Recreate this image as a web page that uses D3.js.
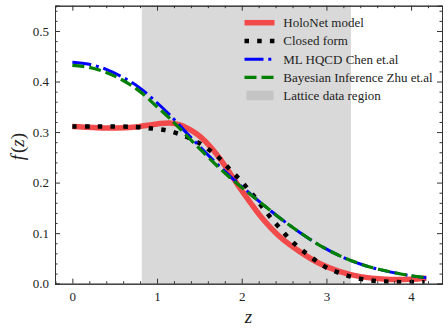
<!DOCTYPE html>
<html>
<head>
<meta charset="utf-8">
<script src="https://cdn.jsdelivr.net/npm/d3@7"></script>
<style>
  body { margin: 0; background: #fff; }
</style>
</head>
<body>
<svg id="chart"></svg>
<script>
// values
const holoZ = [0, 0.25, 0.5, 0.75, 1.0, 1.15, 1.27, 1.4, 1.51, 1.63, 1.74, 1.86, 1.98, 2.1, 2.22, 2.45, 2.69, 2.92, 3.16, 3.4, 3.7, 4.0, 4.18];
const holoF = [0.311, 0.309, 0.308, 0.310, 0.316, 0.318, 0.314, 0.304, 0.291, 0.271, 0.248, 0.219, 0.189, 0.161, 0.134, 0.093, 0.063, 0.040, 0.024, 0.014, 0.009, 0.009, 0.011];

const closedZ = [0, 0.25, 0.5, 0.75, 0.94, 1.09, 1.23, 1.37, 1.51, 1.63, 1.75, 1.85, 1.96, 2.06, 2.16, 2.25, 2.34, 2.44, 2.54, 2.65, 2.77, 2.89, 3.02, 3.16, 3.31, 3.46, 3.6, 3.75, 3.9, 4.05, 4.16];
const closedF = [0.311, 0.311, 0.311, 0.310, 0.307, 0.304, 0.298, 0.289, 0.277, 0.263, 0.246, 0.228, 0.209, 0.190, 0.170, 0.150, 0.131, 0.112, 0.093, 0.075, 0.059, 0.044, 0.030, 0.021, 0.013, 0.008, 0.005, 0.004, 0.003, 0.003, 0.003];

const chenZ = [0, 0.2, 0.4, 0.6, 0.8, 1.0, 1.15, 1.39, 1.63, 1.86, 2.1, 2.22, 2.45, 2.69, 2.92, 3.16, 3.4, 3.63, 3.99, 4.18];
const chenF = [0.438, 0.434, 0.424, 0.408, 0.387, 0.358, 0.334, 0.291, 0.250, 0.213, 0.178, 0.161, 0.130, 0.101, 0.076, 0.055, 0.039, 0.028, 0.016, 0.012];

const zhuZ = [0, 0.2, 0.4, 0.6, 0.8, 1.0, 1.15, 1.39, 1.63, 1.86, 2.1, 2.22, 2.45, 2.69, 2.92, 3.16, 3.4, 3.63, 3.99, 4.18];
const zhuF = [0.432, 0.428, 0.418, 0.402, 0.380, 0.350, 0.327, 0.286, 0.246, 0.210, 0.177, 0.161, 0.130, 0.101, 0.076, 0.055, 0.039, 0.028, 0.016, 0.012];

const latticeRange = [0.82, 3.29];
const xTicks = [0, 1, 2, 3, 4];
const yTicks = [0, 0.1, 0.2, 0.3, 0.4, 0.5];

const legendLabels = ["HoloNet model", "Closed form", "ML HQCD Chen et.al", "Bayesian Inference Zhu et.al", "Lattice data region"];

const FONT = "'Liberation Serif', 'Times New Roman', 'DejaVu Serif', serif";
const width = 448, height = 332;
const margin = { left: 55, right: 6, top: 5.7, bottom: 48.3 };

const svg = d3.select("#chart")
    .attr("width", width)
    .attr("height", height);

const x = d3.scaleLinear().domain([-0.205, 4.365]).range([margin.left, width - margin.right]);
const y = d3.scaleLinear().domain([0, 0.55]).range([height - margin.bottom, margin.top]);

// series styles
const series = [
    { z: holoZ, f: holoF, color: "#f24a4a", width: 5.5, dash: null },
    { z: closedZ, f: closedF, color: "#000", width: 4.5, dash: "4.5,8.2" },
    { z: chenZ, f: chenF, color: "#0000ff", width: 3, dash: "19,4.8,3,4.8" },
    { z: zhuZ, f: zhuF, color: "#008000", width: 3.2, dash: "12,5" }
];

// Lattice shaded region
svg.append("rect")
    .attr("x", x(latticeRange[0]))
    .attr("y", y(0.55))
    .attr("width", x(latticeRange[1]) - x(latticeRange[0]))
    .attr("height", y(0) - y(0.55))
    .attr("fill", "#d9d9d9");

const line = d3.line()
    .x(d => x(d[0]))
    .y(d => y(d[1]))
    .curve(d3.curveCatmullRom.alpha(0.5));

svg.append("defs").append("clipPath").attr("id", "clip")
    .append("rect")
    .attr("x", margin.left).attr("y", margin.top)
    .attr("width", width - margin.left - margin.right)
    .attr("height", height - margin.top - margin.bottom);

const plot = svg.append("g").attr("clip-path", "url(#clip)");

series.forEach(s => {
    plot.append("path")
        .datum(d3.zip(s.z, s.f))
        .attr("d", line)
        .attr("fill", "none")
        .attr("stroke", s.color)
        .attr("stroke-width", s.width)
        .attr("stroke-linecap", "butt")
        .attr("stroke-dasharray", s.dash);
});

// Axes (ticks point inward, on all four sides)
const minorX = d3.range(-0.2, 4.4, 0.2).filter(v => Math.abs(v - Math.round(v)) > 1e-6);
const minorY = d3.range(0, 0.55, 0.02).filter(v => Math.abs(v * 10 - Math.round(v * 10)) > 1e-6);

function styleAxis(g) {
    g.attr("font-family", FONT).attr("font-size", 13);
    g.select(".domain").attr("stroke", "#333").attr("stroke-width", 1);
    g.selectAll(".tick line").attr("stroke", "#333").attr("stroke-width", 1);
    g.selectAll("text").attr("fill", "#222");
}

const plotBottom = height - margin.bottom, plotTop = margin.top;
const plotLeft = margin.left, plotRight = width - margin.right;

svg.append("g").attr("transform", `translate(0,${plotBottom})`)
    .call(d3.axisBottom(x).tickValues(xTicks).tickSize(-5).tickPadding(8).tickFormat(d3.format("d")))
    .call(styleAxis);
svg.append("g").attr("transform", `translate(0,${plotBottom})`)
    .call(d3.axisBottom(x).tickValues(minorX).tickSize(-2.5).tickFormat(""))
    .call(styleAxis);
svg.append("g").attr("transform", `translate(0,${plotTop})`)
    .call(d3.axisTop(x).tickValues(xTicks).tickSize(-5).tickFormat(""))
    .call(styleAxis);
svg.append("g").attr("transform", `translate(0,${plotTop})`)
    .call(d3.axisTop(x).tickValues(minorX).tickSize(-2.5).tickFormat(""))
    .call(styleAxis);

svg.append("g").attr("transform", `translate(${plotLeft},0)`)
    .call(d3.axisLeft(y).tickValues(yTicks).tickSize(-5).tickPadding(6).tickFormat(d3.format(".1f")))
    .call(styleAxis);
svg.append("g").attr("transform", `translate(${plotLeft},0)`)
    .call(d3.axisLeft(y).tickValues(minorY).tickSize(-2.5).tickFormat(""))
    .call(styleAxis);
svg.append("g").attr("transform", `translate(${plotRight},0)`)
    .call(d3.axisRight(y).tickValues(yTicks).tickSize(-5).tickFormat(""))
    .call(styleAxis);
svg.append("g").attr("transform", `translate(${plotRight},0)`)
    .call(d3.axisRight(y).tickValues(minorY).tickSize(-2.5).tickFormat(""))
    .call(styleAxis);

// Axis labels
svg.append("text")
    .attr("x", (plotLeft + plotRight) / 2)
    .attr("y", 323)
    .attr("text-anchor", "middle")
    .attr("font-family", FONT)
    .attr("font-size", 19)
    .attr("font-style", "italic")
    .attr("fill", "#222")
    .text("z");

const yl = svg.append("text")
    .attr("transform", `translate(24,${(plotTop + plotBottom) / 2 + 2}) rotate(-90)`)
    .attr("text-anchor", "middle")
    .attr("font-family", FONT)
    .attr("font-size", 19)
    .attr("fill", "#222");
yl.append("tspan").attr("font-style", "italic").text("f");
yl.append("tspan").attr("dx", 2).text("(");
yl.append("tspan").attr("font-style", "italic").text("z");
yl.append("tspan").text(")");

// Legend
const legend = svg.append("g");
const rowY = i => 22.7 + i * 18.25;
series.forEach((s, i) => {
    legend.append("line")
        .attr("x1", 244.5).attr("x2", 274.5)
        .attr("y1", rowY(i)).attr("y2", rowY(i))
        .attr("stroke", s.color)
        .attr("stroke-width", s.width)
        .attr("stroke-dasharray", s.dash)
        .attr("stroke-linecap", "butt");
});
legend.append("rect")
    .attr("x", 246.5).attr("y", rowY(4) - 5)
    .attr("width", 27).attr("height", 9.5)
    .attr("fill", "#c4c4c4");
legendLabels.forEach((t, i) => {
    legend.append("text")
        .attr("x", 283.3)
        .attr("y", rowY(i) + 4.5)
        .attr("font-family", FONT)
        .attr("font-size", 13)
        .attr("fill", "#222")
        .text(t);
});
</script>
</body>
</html>
